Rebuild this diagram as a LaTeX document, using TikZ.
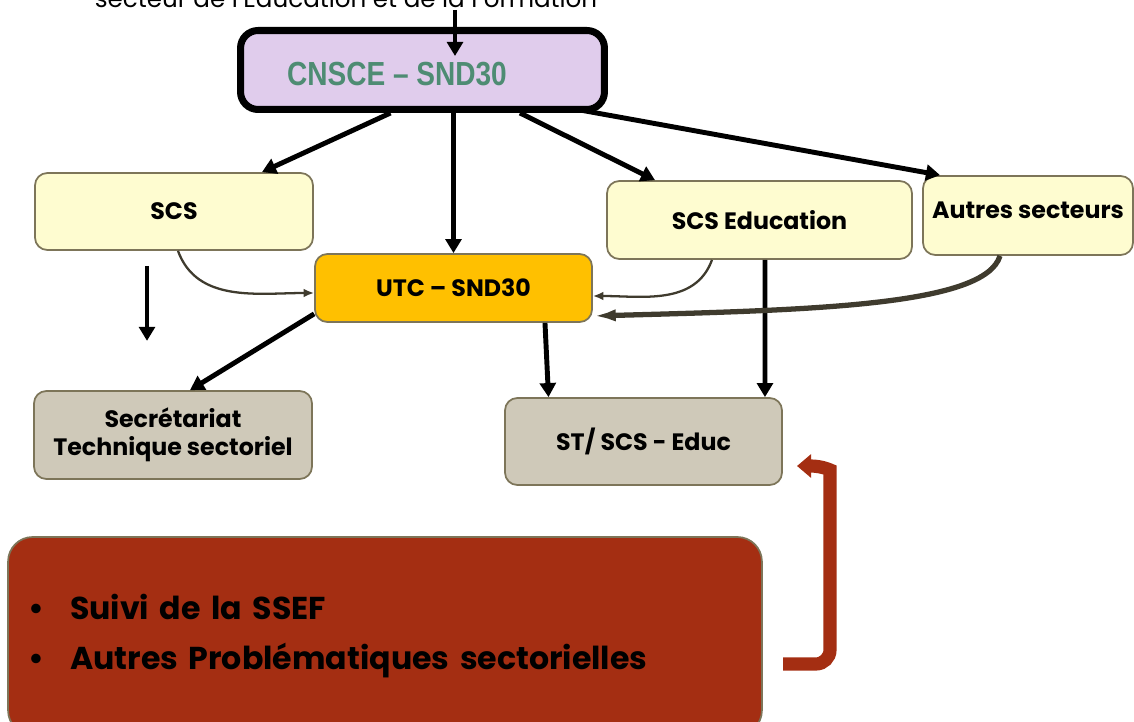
\documentclass[tikz,border=0pt]{standalone}
\usepackage{fontspec}
\setmainfont{Poppins}
\newfontfamily\etroite[FakeStretch=0.84]{Liberation Sans}
\usetikzlibrary{arrows.meta}
\definecolor{lavande}{HTML}{E0CCEC}
\definecolor{paille}{HTML}{FEFCD0}
\definecolor{ambre}{HTML}{FFC000}
\definecolor{sable}{HTML}{CFC9B9}
\definecolor{brique}{HTML}{A42E12}
\definecolor{bordure}{HTML}{7D7559}
\definecolor{brun}{HTML}{3F3B2E}
\definecolor{sarcelle}{HTML}{4E8C73}

\begin{document}
\begin{tikzpicture}[x=0.02cm,y=-0.02cm,
  boite/.style={draw=bordure,line width=1pt,rounded corners=7pt,
    font=\bfseries\fontsize{13.5}{16}\selectfont,align=center},
  secteur/.style={boite,fill=paille},
  organe/.style={boite,fill=sable},
  fleche/.style={-{Triangle[width=9pt,length=8pt]},line width=2.8pt},
  courbe/.style={-{Latex[length=6pt,width=5pt]},line width=1.3pt,draw=brun},
  retour/.style={-{Triangle[width=13pt,length=8pt]},line width=7.5pt,draw=brique}]
\useasboundingbox (0,0) rectangle (1134,722);
\clip (0,0) rectangle (1134,722);

\node[anchor=base,font=\fontsize{14}{16}\selectfont] (haut) at (346,8)
  {secteur de l'Education et de la Formation};

\node[draw=black,line width=4pt,rounded corners=10pt,fill=lavande,
  minimum width=7.28cm,minimum height=1.58cm] (cnsce) at (422.5,70) {};
\node[font=\etroite\bfseries\fontsize{19}{21}\selectfont,text=sarcelle]
  (cnscetxt) at (397,74) {CNSCE – SND30};

\node[secteur,minimum width=5.56cm,minimum height=1.54cm] (scs) at (174,211.5) {SCS};
\node[secteur,minimum width=6.1cm,minimum height=1.56cm] (scsedu) at (759.5,220) {SCS Education};
\node[secteur,minimum width=4.2cm,minimum height=1.58cm,text depth=0.2cm] (autres) at (1028,215.5) {Autres secteurs};
\node[boite,fill=ambre,minimum width=5.54cm,minimum height=1.36cm] (utc) at (453.5,288) {UTC – SND30};
\node[organe,minimum width=5.56cm,minimum height=1.76cm] (sts) at (173,435) {Secrétariat\\Technique sectoriel};
\node[organe,minimum width=5.54cm,minimum height=1.74cm] (steduc) at (643.5,441.5) {ST/ SCS - Educ};

\node[draw=bordure,line width=1pt,fill=brique,rounded corners=14pt,
  minimum width=15.08cm,minimum height=3.96cm,text width=14.28cm,align=left,
  font=\bfseries\fontsize{18}{28}\selectfont] (suivi) at (385,636)
  {\makebox[0.84cm][l]{\textbullet}Suivi de la SSEF\\
   \makebox[0.84cm][l]{\textbullet}Autres Problématiques sectorielles};

\coordinate (a0) at (455,10);
\coordinate (a1) at (455,56);
\draw[fleche] (a0) -- (a1);
\draw[fleche] ([xshift=-0.64cm]cnsce.south) -- ([xshift=1.76cm]scs.north);
\draw[fleche] (cnsce.south -| utc.north) -- (utc.north);
\draw[fleche] ([xshift=1.95cm]cnsce.south) -- ([xshift=-2.09cm]scsedu.north);
\draw[fleche] ([xshift=3.15cm,yshift=0.06cm]cnsce.south) -- ([xshift=-1.76cm]autres.north);
\draw[fleche] ([xshift=-0.54cm,yshift=-0.3cm]scs.south) -- ++(0,75);
\draw[fleche] ([yshift=0.18cm]utc.south west) -- ([xshift=0.34cm]sts.north);
\draw[fleche] ([xshift=1.83cm]utc.south) -- ([xshift=-1.9cm]steduc.north);
\draw[fleche] ([xshift=0.11cm]scsedu.south) -- ([xshift=2.43cm]steduc.north);

\draw[courbe] ([xshift=0.08cm]scs.south) to[out=-70,in=180] ([yshift=-0.1cm]utc.west);
\draw[courbe] ([xshift=-0.95cm]scsedu.south) to[out=-110,in=0] ([yshift=-0.16cm]utc.east);
\draw[courbe,line width=3pt,-{Latex[length=13pt,width=7pt]}]
  ([xshift=-0.56cm]autres.south) .. controls +(-15,50) and +(220,-6) .. ([yshift=-0.56cm]utc.east);

\coordinate (r0) at (783,664);
\coordinate (r1) at (797,466);
\draw[retour] (r0) [rounded corners=8pt] -- (830,664) -- (830,484) [sharp corners]
  .. controls (830,470) and (822,466) .. (r1);
\end{tikzpicture}
\end{document}
